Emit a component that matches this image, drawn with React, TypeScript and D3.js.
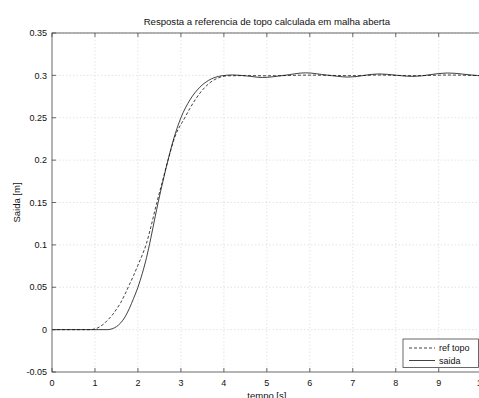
import React from "react";
import * as d3 from "d3";

const refTime = [0, 0.9, 1.0, 1.1, 1.2, 1.3, 1.4, 1.5, 1.6, 1.7, 1.8, 1.9, 2.0, 2.1, 2.2, 2.3, 2.44, 2.57, 2.7, 2.85, 3.09, 3.33, 3.56, 3.75, 4.1, 4.5, 5.0, 6.0, 7.0, 7.6, 8.4, 9.2, 10];
const refValue = [0, 0, 0.0008, 0.003, 0.0065, 0.0115, 0.017, 0.024, 0.032, 0.042, 0.053, 0.064, 0.076, 0.088, 0.102, 0.121, 0.15, 0.175, 0.2, 0.226, 0.25, 0.271, 0.286, 0.294, 0.2995, 0.2997, 0.2995, 0.3003, 0.2996, 0.3004, 0.2996, 0.3004, 0.2997];

const outTime = [0, 1.3, 1.35, 1.4, 1.5, 1.6, 1.7, 1.8, 1.9, 2.0, 2.1, 2.2, 2.3, 2.4, 2.47, 2.6, 2.7, 2.82, 3.0, 3.21, 3.44, 3.64, 3.95, 4.2, 4.5, 4.9, 5.4, 5.9, 6.4, 6.9, 7.6, 8.4, 9.2, 9.9, 10];
const outValue = [0, 0, 0.0003, 0.001, 0.0035, 0.008, 0.015, 0.025, 0.037, 0.05, 0.066, 0.085, 0.108, 0.133, 0.15, 0.179, 0.2, 0.223, 0.25, 0.271, 0.286, 0.294, 0.2995, 0.3005, 0.2995, 0.2975, 0.3, 0.303, 0.3003, 0.298, 0.3017, 0.2988, 0.3028, 0.2998, 0.2995];

const xTicks = [0, 1, 2, 3, 4, 5, 6, 7, 8, 9, 10];
const yTicks = [-0.05, 0, 0.05, 0.1, 0.15, 0.2, 0.25, 0.3, 0.35];
const legendLabels = ["ref topo", "saida"];

export default function App() {
  const left = 52, right = 481.7, top = 33, bottom = 372;
  const x = d3.scaleLinear().domain([0, 10]).range([left, right]);
  const y = d3.scaleLinear().domain([-0.05, 0.35]).range([bottom, top]);
  const line = d3
    .line<[number, number]>()
    .x((d) => x(d[0]))
    .y((d) => y(d[1]))
    .curve(d3.curveMonotoneX);
  const refPts: [number, number][] = refTime.map((t, i) => [t, refValue[i]]);
  const outPts: [number, number][] = outTime.map((t, i) => [t, outValue[i]]);
  const font = "'Liberation Sans', Arial, Helvetica, sans-serif";
  const axisColor = "#444";
  const fmt = (v: number) => String(Math.round(v * 100) / 100);
  return (
    <svg
      width={479}
      height={398}
      style={{ position: "absolute", left: 0, top: 0, background: "#fff" }}
      fontFamily={font}
    >
      <rect x={0} y={0} width={479} height={398} fill="#fff" />
      {/* grid */}
      {xTicks.slice(1).map((t) => (
        <line key={"gx" + t} x1={x(t)} x2={x(t)} y1={top} y2={bottom} stroke="#d4d4d4" strokeWidth={0.6} strokeDasharray="1.5,2" />
      ))}
      {yTicks.slice(1).map((v) => (
        <line key={"gy" + v} x1={left} x2={right} y1={y(v)} y2={y(v)} stroke="#d4d4d4" strokeWidth={0.6} strokeDasharray="1.5,2" />
      ))}
      {/* curves */}
      <path d={line(refPts) || ""} fill="none" stroke="#111" strokeWidth={0.8} strokeDasharray="3,2" />
      <path d={line(outPts) || ""} fill="none" stroke="#111" strokeWidth={0.8} />
      {/* frame */}
      <rect x={left} y={top} width={right - left} height={bottom - top} fill="none" stroke={axisColor} strokeWidth={0.8} />
      {/* ticks */}
      {xTicks.map((t) => (
        <g key={"tx" + t}>
          <line x1={x(t)} x2={x(t)} y1={bottom} y2={bottom - 4} stroke={axisColor} strokeWidth={0.8} />
          <line x1={x(t)} x2={x(t)} y1={top} y2={top + 4} stroke={axisColor} strokeWidth={0.8} />
          <text x={x(t)} y={386} fontSize={9} textAnchor="middle" fill="#111">
            {t}
          </text>
        </g>
      ))}
      {yTicks.map((v) => (
        <g key={"ty" + v}>
          <line x1={left} x2={left + 4} y1={y(v)} y2={y(v)} stroke={axisColor} strokeWidth={0.8} />
          <text x={47} y={y(v) + 3.2} fontSize={9} textAnchor="end" fill="#111">
            {fmt(v)}
          </text>
        </g>
      ))}
      {/* title and labels */}
      <text x={(left + right) / 2} y={25} fontSize={9.6} textAnchor="middle" fill="#111">
        Resposta a referencia de topo calculada em malha aberta
      </text>
      <text x={(left + right) / 2} y={399} fontSize={9.5} textAnchor="middle" fill="#111">
        tempo [s]
      </text>
      <text transform={`translate(20, ${(top + bottom) / 2}) rotate(-90)`} fontSize={9.5} textAnchor="middle" fill="#111">
        Saida [m]
      </text>
      {/* legend */}
      <rect x={403} y={339} width={75.5} height={28.5} fill="#fff" stroke={axisColor} strokeWidth={0.8} />
      <line x1={409} x2={435} y1={348} y2={348} stroke="#111" strokeWidth={0.8} strokeDasharray="3,2" />
      <text x={439} y={351.2} fontSize={9} fill="#111">{legendLabels[0]}</text>
      <line x1={409} x2={435} y1={360.5} y2={360.5} stroke="#111" strokeWidth={0.8} />
      <text x={439} y={363.7} fontSize={9} fill="#111">{legendLabels[1]}</text>
    </svg>
  );
}
